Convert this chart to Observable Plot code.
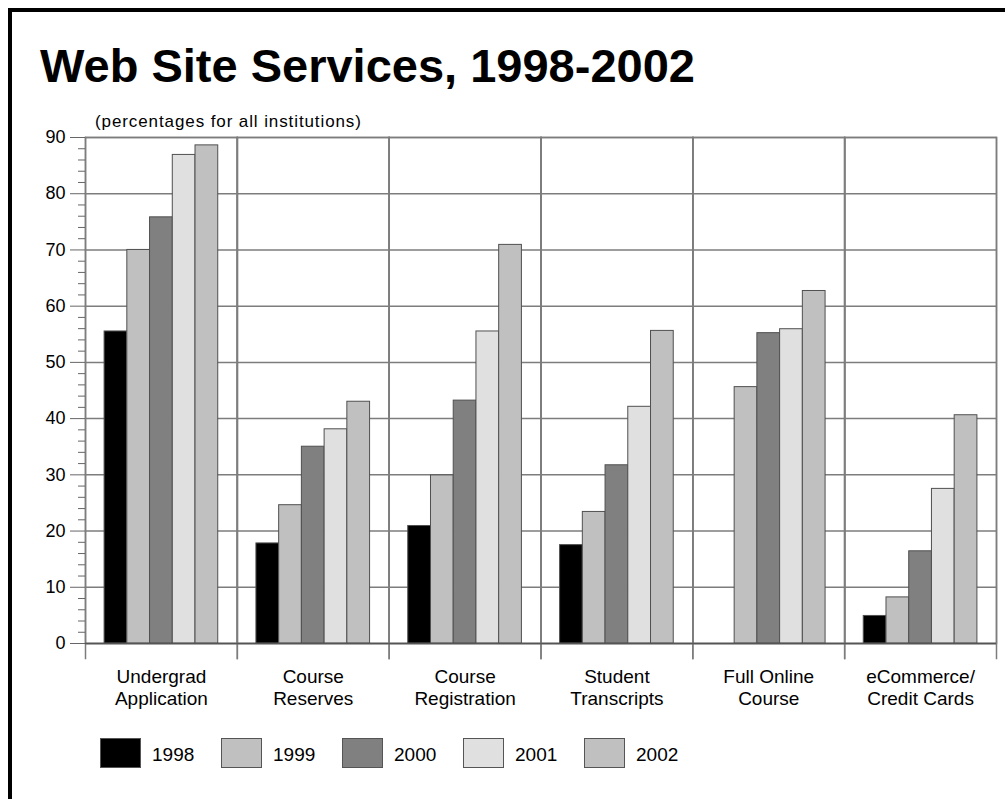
<!DOCTYPE html>
<html>
<head>
<meta charset="utf-8">
<script src="https://cdn.jsdelivr.net/npm/d3@7"></script>
<script src="https://cdn.jsdelivr.net/npm/@observablehq/plot@0.6"></script>
<style>
  body { margin: 0; background: #fff; font-family: "Liberation Sans", Arial, sans-serif; }
  #wrap { position: relative; width: 1005px; height: 799px; overflow: hidden; background: #fff; }
  #border { position: absolute; left: 8px; top: 8px; right: -20px; bottom: -20px;
            border-left: 4px solid #000; border-top: 4px solid #000; pointer-events: none; }
  #chart { position: absolute; left: 0; top: 0; }
  #title { position: absolute; left: 40px; top: 42px; font-size: 47px; line-height: 47px;
           font-weight: bold; color: #000; white-space: nowrap; }
  #subtitle { position: absolute; left: 95px; top: 113px; font-size: 17px; line-height: 17px;
              letter-spacing: 0.9px; color: #000; white-space: nowrap; }
  #legend { position: absolute; left: 100px; top: 738px; display: flex; }
  .item { width: 121px; display: flex; align-items: center; height: 29px; }
  .sw { width: 39px; height: 28px; border: 1px solid #555; box-sizing: content-box; }
  .lab { margin-left: 11px; font-size: 19px; line-height: 29px; color: #000; padding-top: 4px; }
</style>
</head>
<body>
<div id="wrap">
  <div id="chart"></div>
  <div id="title">Web Site Services, 1998-2002</div>
  <div id="subtitle">(percentages for all institutions)</div>
  <div id="legend"></div>
  <div id="border"></div>
</div>
<script>
// ---- data ----
const categories = [
  "Undergrad\nApplication",
  "Course\nReserves",
  "Course\nRegistration",
  "Student\nTranscripts",
  "Full Online\nCourse",
  "eCommerce/\nCredit Cards"
];
const years = ["1998", "1999", "2000", "2001", "2002"];
const v1998 = [55.5, 17.8, 20.9, 17.5, null, 4.9];
const v1999 = [70.0, 24.6, 29.9, 23.4, 45.6, 8.2];
const v2000 = [75.8, 35.0, 43.2, 31.7, 55.2, 16.4];
const v2001 = [86.9, 38.1, 55.5, 42.1, 55.9, 27.5];
const v2002 = [88.6, 43.0, 70.9, 55.6, 62.7, 40.6];
const yearColors = ["#000000", "#c0c0c0", "#808080", "#e0e0e0", "#c0c0c0"];
const yMajorTicks = [0, 10, 20, 30, 40, 50, 60, 70, 80, 90];
const yMinorTicks = [2,4,6,8,12,14,16,18,22,24,26,28,32,34,36,38,42,44,46,48,52,54,56,58,62,64,66,68,72,74,76,78,82,84,86,88];

// ---- table ----
const series = [v1998, v1999, v2000, v2001, v2002];
const table = [];
categories.forEach((c, i) => {
  years.forEach((yr, j) => {
    const v = series[j][i];
    if (v != null) table.push({category: c, year: yr, value: v});
  });
});

const gridColor = "#7d7d7d";
const font = '"Liberation Sans", Arial, sans-serif';

const chart = Plot.plot({
  width: 1005,
  height: 799,
  marginLeft: 85,
  marginRight: 9,
  marginTop: 137,
  marginBottom: 156,
  style: {fontFamily: font, background: "transparent", color: "#000"},
  fx: {domain: categories, padding: 0, round: false, label: null},
  x: {domain: years, paddingInner: 0, paddingOuter: 0.84, round: false, axis: null},
  y: {domain: [0, 90], axis: null, label: null},
  color: {domain: years, range: yearColors},
  marks: [
    Plot.gridY(yMajorTicks, {stroke: gridColor, strokeOpacity: 1, strokeWidth: 1.5}),
    Plot.frame({stroke: gridColor, strokeWidth: 1.5}),
    Plot.frame({anchor: "left", insetBottom: -15, stroke: gridColor, strokeWidth: 1.5}),
    Plot.frame({anchor: "right", insetBottom: -15, stroke: gridColor, strokeWidth: 1.5}),
    Plot.barY(table, {fx: "category", x: "year", y: "value", fill: "year", stroke: "#505050", strokeWidth: 1}),
    Plot.ruleY([0], {stroke: "#555", strokeWidth: 1.5}),
    Plot.axisY(yMajorTicks, {tickSize: 15, tickPadding: 5, fontSize: 18, label: null, stroke: "#666", fill: "#000"}),
    Plot.axisY(yMinorTicks, {tickSize: 7, tickFormat: () => "", label: null, stroke: "#666"}),
    Plot.axisFx({anchor: "bottom", tickSize: 0, tickPadding: 23, fontSize: 19, lineHeight: 1.2, label: null, fill: "#000"})
  ]
});
document.getElementById("chart").appendChild(chart);

// ---- legend ----
const legend = d3.select("#legend");
years.forEach((yr, j) => {
  const item = legend.append("div").attr("class", "item");
  item.append("div").attr("class", "sw").style("background", yearColors[j]);
  item.append("div").attr("class", "lab").text(yr);
});
</script>
</body>
</html>
